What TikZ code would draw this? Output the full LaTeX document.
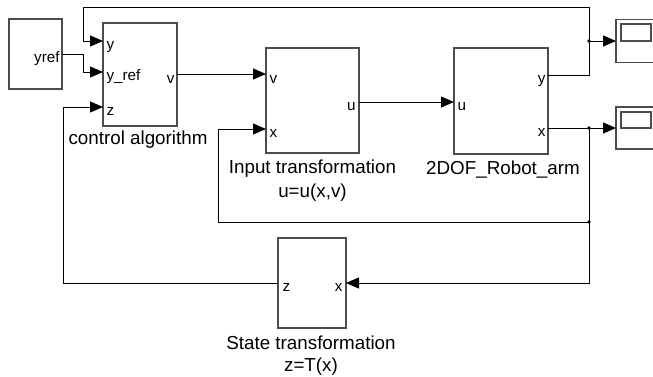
\documentclass[tikz,border=0pt]{standalone}
\usepackage{fontspec}
\setmainfont{Liberation Sans}
\usepackage{tikz}
\usetikzlibrary{arrows.meta}

\begin{document}
\begin{tikzpicture}[
  x=0.5pt, y=-0.5pt,
  blk/.style={rectangle, draw=black!70, line width=0.6pt, inner sep=0pt, outer sep=0pt},
  port/.style={font=\fontsize{7.6}{9}\selectfont, inner sep=0pt},
  lbl/.style={font=\fontsize{9.4}{11}\selectfont, inner sep=0pt, anchor=base},
  sig/.style={-{Triangle[length=6.5pt,width=5.5pt]}},
  line width=0.5pt
]
  \clip (0,0) rectangle (653,376);

  \node[blk, minimum width=26.5pt, minimum height=35pt] (yref) at (35.5,54) {};
  \node[blk, minimum width=37pt, minimum height=51.5pt] (ctrl) at (140,74.5) {};
  \node[blk, minimum width=46.5pt, minimum height=52.5pt] (inp) at (312.5,100.5) {};
  \node[blk, minimum width=47pt, minimum height=53pt] (robot) at (501,101) {};
  \node[blk, minimum width=34pt, minimum height=45pt] (state) at (312,283) {};
  \node[blk, minimum width=25pt, minimum height=21.5pt] (scope1) at (641,41) {};
  \node[blk, minimum width=15pt, minimum height=8.5pt] (screen1) at (636,32.5) {};
  \node[blk, minimum width=25pt, minimum height=21pt] (scope2) at (641,128) {};
  \node[blk, minimum width=15pt, minimum height=8pt] (screen2) at (636,120) {};

  \coordinate (yref-o) at (62,54);
  \coordinate (ctrl-y) at (103,41);
  \coordinate (ctrl-yr) at (103,72);
  \coordinate (ctrl-z) at (103,107);
  \coordinate (ctrl-v) at (177,74);
  \coordinate (inp-v) at (266,74);
  \coordinate (inp-x) at (266,129);
  \coordinate (inp-u) at (359,102);
  \coordinate (rob-u) at (454,102);
  \coordinate (rob-y) at (548,75);
  \coordinate (rob-x) at (548,128);
  \coordinate (st-x) at (346,283);
  \coordinate (st-z) at (278,283);
  \coordinate (jy) at (589,41);
  \coordinate (jx) at (589,128);
  \coordinate (jf) at (589,222);

  \node[port, anchor=base east] (l-yref) at (60,62) {yref};
  \node[port, anchor=base west] (l-cy) at (106,49) {y};
  \node[port, anchor=base west] (l-cyr) at (106,80) {y\_ref};
  \node[port, anchor=base west] (l-cz) at (106,115) {z};
  \node[port, anchor=base east] (l-cv) at (175,83) {v};
  \node[port, anchor=base west] (l-iv) at (269,83) {v};
  \node[port, anchor=base west] (l-ix) at (269,137) {x};
  \node[port, anchor=base east] (l-iu) at (356,110) {u};
  \node[port, anchor=base west] (l-ru) at (457,110) {u};
  \node[port, anchor=base east] (l-ry) at (546,83) {y};
  \node[port, anchor=base east] (l-rx) at (546,136) {x};
  \node[port, anchor=base west] (l-sz) at (282,291) {z};
  \node[port, anchor=base east] (l-sx) at (343,291) {x};

  \node[lbl] (t-ctrl) at (138,144) {control algorithm};
  \node[lbl] (t-inp) at (312.5,173) {Input transformation};
  \node[lbl] (t-inp2) at (312.5,197) {u=u(x,v)};
  \node[lbl] (t-rob) at (503,174) {2DOF\_Robot\_arm};
  \node[lbl] (t-st) at (311,349) {State transformation};
  \node[lbl] (t-st2) at (311,371) {z=T(x)};

  \draw[sig] (yref-o) -- ++(21,0) |- (ctrl-yr);
  \draw[sig] (ctrl-v) -- (inp-v);
  \draw[sig] (inp-u) -- (rob-u);
  \draw (rob-y) -| (jy);
  \draw[sig] (jy) -- (scope1.west);
  \draw[sig] (jy) |- ++(-506,-34) |- (ctrl-y);
  \draw[sig] (rob-x) -- (scope2.west);
  \draw (jx) -- (jf);
  \draw[sig] (jf) -- ++(-371,0) |- (inp-x);
  \draw[sig] (jf) |- (st-x);
  \draw[sig] (st-z) -- ++(-215,0) |- (ctrl-z);

  \fill (jy) circle (0.9pt);
  \fill (jx) circle (0.9pt);
  \fill (jf) circle (0.9pt);
\end{tikzpicture}
\end{document}
